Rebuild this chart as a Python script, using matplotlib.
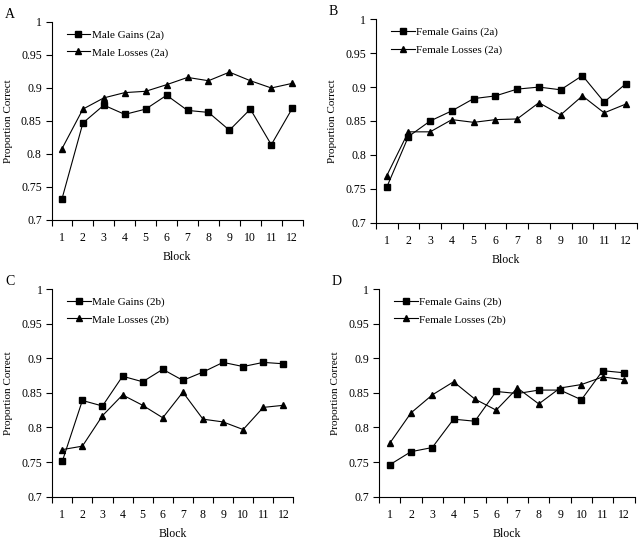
import numpy as np
import matplotlib
matplotlib.use('Agg')
import matplotlib.pyplot as plt
from matplotlib.ticker import FuncFormatter

plt.rcParams['font.family'] = ['Liberation Serif', 'DejaVu Serif']

blocks = np.arange(1, 13)

# panel A (2a, male)
male_gains_2a = [0.732, 0.847, 0.874, 0.860, 0.868, 0.889, 0.866, 0.863, 0.836, 0.868, 0.814, 0.869]
male_losses_2a = [0.808, 0.868, 0.885, 0.893, 0.895, 0.905, 0.916, 0.911, 0.924, 0.911, 0.900, 0.907]
# panel B (2a, female)
female_gains_2a = [0.752, 0.827, 0.850, 0.865, 0.883, 0.887, 0.897, 0.900, 0.896, 0.917, 0.878, 0.905]
female_losses_2a = [0.769, 0.834, 0.834, 0.852, 0.848, 0.852, 0.853, 0.877, 0.859, 0.887, 0.862, 0.875]
# panel C (2b, male)
male_gains_2b = [0.751, 0.839, 0.831, 0.874, 0.866, 0.884, 0.868, 0.880, 0.894, 0.888, 0.894, 0.892]
male_losses_2b = [0.768, 0.773, 0.817, 0.847, 0.832, 0.814, 0.851, 0.812, 0.808, 0.797, 0.829, 0.832]
# panel D (2b, female)
female_gains_2b = [0.746, 0.765, 0.771, 0.812, 0.809, 0.852, 0.849, 0.854, 0.854, 0.840, 0.882, 0.879]
female_losses_2b = [0.777, 0.821, 0.847, 0.866, 0.841, 0.825, 0.857, 0.834, 0.857, 0.862, 0.873, 0.869]

panels = [
    ('A', [0.080, 0.5926, 0.390, 0.3667], male_gains_2a, male_losses_2a, 'Male Gains (2a)', 'Male Losses (2a)'),
    ('B', [0.5835, 0.5876, 0.4053, 0.3767], female_gains_2a, female_losses_2a, 'Female Gains (2a)', 'Female Losses (2a)'),
    ('C', [0.0811, 0.0802, 0.3745, 0.3846], male_gains_2b, male_losses_2b, 'Male Gains (2b)', 'Male Losses (2b)'),
    ('D', [0.5885, 0.0802, 0.397, 0.3846], female_gains_2b, female_losses_2b, 'Female Gains (2b)', 'Female Losses (2b)'),
]

fig = plt.figure(figsize=(6.44, 5.4), dpi=100)

for letter, rect, gains, losses, lab_g, lab_l in panels:
    ax = fig.add_axes(rect)
    ax.plot(blocks, gains, color='black', lw=0.8, marker='s', ms=4, label=lab_g)
    ax.plot(blocks, losses, color='black', lw=0.8, marker='^', ms=5, label=lab_l)
    ax.set_xlim(0.5, 12.5)
    ax.set_ylim(0.7, 1.0)
    ax.set_yticks(np.arange(0.7, 1.001, 0.05))
    ax.yaxis.set_major_formatter(FuncFormatter(lambda v, p: '%g' % round(v, 2)))
    ax.set_xticks(np.arange(0.5, 13, 1))
    ax.set_xticklabels([])
    ax.set_xticks(blocks, minor=True)
    ax.set_xticklabels([str(b) for b in blocks], minor=True)
    ax.tick_params(axis='x', which='minor', length=0, pad=9, labelsize=8.5)
    ax.tick_params(axis='x', which='major', length=4, width=0.8, direction='out')
    ax.tick_params(axis='y', length=4, width=0.8, direction='out', labelsize=8.5, pad=3)
    for s in ['top', 'right']:
        ax.spines[s].set_visible(False)
    for s in ['left', 'bottom']:
        ax.spines[s].set_linewidth(0.8)
    ax.set_xlabel('Block', fontsize=8.5, labelpad=5)
    ax.set_ylabel('Proportion Correct', fontsize=8, labelpad=6)
    ax.legend(loc='upper left', frameon=False, fontsize=8, handlelength=2.1,
              handletextpad=0.15, labelspacing=0.7, borderaxespad=0.3,
              bbox_to_anchor=(0.03, 1.0))
    pos = ax.get_position()
    fig.text(pos.x0 - 0.073, pos.y1 + 0.002, letter, fontsize=10, va='bottom', ha='left')

fig.savefig('out.png', dpi=100)
